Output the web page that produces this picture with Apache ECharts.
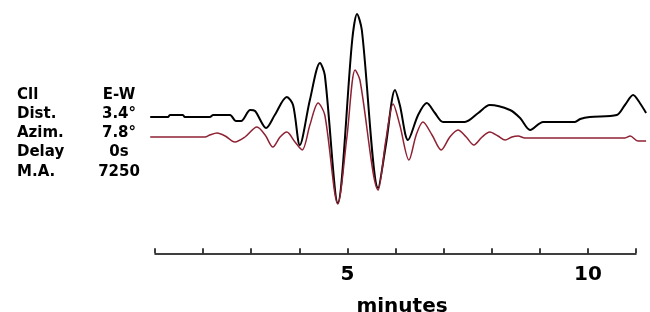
<!DOCTYPE html>
<html>
<head>
<meta charset="utf-8">
<script src="https://cdn.jsdelivr.net/npm/echarts@6/dist/echarts.min.js"></script>
<style>html,body{margin:0;padding:0;background:#fff}#c{width:650px;height:312px}</style>
</head>
<body>
<div id="c"></div>
<script>
// Trace 1 (black, upper) : time in minutes, amplitude about its baseline
const blackTime = [0.90,1.27,1.31,1.58,1.62,2.14,2.21,2.56,2.68,2.79,2.98,3.08,3.31,3.49,3.74,3.87,4.01,4.22,4.43,4.53,4.80,5.10,5.20,5.30,5.64,5.80,5.99,6.09,6.26,6.47,6.65,6.82,6.99,7.44,7.72,7.96,8.38,8.59,8.80,9.07,9.73,9.84,10.04,10.60,10.77,10.94,11.08,11.21];
const blackAmp  = [0,0,2,2,0,0,2,2,-4,-4,7,6,-11,2,20,12,-28,17,54,42,-86,77,103,87,-71,-28,27,12,-23,2,14,4,-5,-5,4,12,7,-1,-13,-5,-5,-2,0,2,12,22,14,4];
// Trace 2 (dark red, lower)
const redTime = [0.90,2.04,2.14,2.29,2.46,2.66,2.87,3.12,3.29,3.45,3.60,3.74,3.91,4.06,4.22,4.39,4.53,4.80,4.99,5.16,5.26,5.64,5.80,5.95,6.09,6.28,6.43,6.57,6.76,6.95,7.13,7.30,7.47,7.63,7.80,7.96,8.13,8.28,8.42,8.55,8.69,10.77,10.88,11.04,11.21];
const redAmp  = [0,0,2,4,1,-5,0,10,2,-10,0,5,-5,-13,12,34,22,-67,0,67,57,-53,-3,33,12,-23,2,15,2,-13,0,7,0,-8,0,5,1,-3,0,1,-1,-1,1,-4,-4];
// Station info
const infoNames  = ['Cll','Dist.','Azim.','Delay','M.A.'];
const infoValues = ['E-W','3.4°','7.8°','0s','7250'];
// Axis
const axisMin = 1, axisMax = 11, axisStep = 1;
const labeledTicks = [5, 10];
const axisTitle = 'minutes';

const blackOffset = -7, redOffset = -27;
const chart = echarts.init(document.getElementById('c'));
const font = '"DejaVu Sans", sans-serif';
const info = [];
infoNames.forEach((n, i) => {
  info.push({type:'text', x:17, y:95 + i*19.2, style:{text:n, font:'bold 15px ' + font, fill:'#000', verticalAlign:'middle'}});
  info.push({type:'text', x:119, y:95 + i*19.2, style:{text:infoValues[i], font:'bold 15px ' + font, fill:'#000', align:'center', verticalAlign:'middle'}});
});
chart.setOption({
  animation:false,
  graphic: info,
  grid:[
    {left:150, top:10, width:496, height:200},
    {left:155, top:253, width:481, height:1}
  ],
  xAxis:[
    {type:'value', gridIndex:0, min:0.896, max:11.208, show:false},
    {type:'value', gridIndex:1, min:axisMin, max:axisMax, interval:axisStep,
     axisLine:{lineStyle:{color:'#000', width:1.5}},
     axisTick:{inside:true, length:5, lineStyle:{color:'#000', width:1.5}},
     splitLine:{show:false},
     axisLabel:{margin:12, color:'#000', fontFamily:font, fontWeight:'bold', fontSize:20,
       formatter:v => labeledTicks.includes(v) ? String(v) : ''},
     name:axisTitle, nameLocation:'middle', nameGap:44,
     nameTextStyle:{color:'#000', fontFamily:font, fontWeight:'bold', fontSize:20, padding:[0,0,0,13]}}
  ],
  yAxis:[
    {type:'value', gridIndex:0, min:-100, max:100, show:false},
    {type:'value', gridIndex:1, min:0, max:1, show:false}
  ],
  series:[
    {type:'line', xAxisIndex:0, yAxisIndex:0, showSymbol:false, smooth:0.3,
     lineStyle:{color:'#000', width:2},
     data:blackTime.map((t,i)=>[t, blackAmp[i] + blackOffset])},
    {type:'line', xAxisIndex:0, yAxisIndex:0, showSymbol:false, smooth:0.3,
     lineStyle:{color:'#8e2233', width:1.5},
     data:redTime.map((t,i)=>[t, redAmp[i] + redOffset])}
  ]
});
</script>
</body>
</html>
